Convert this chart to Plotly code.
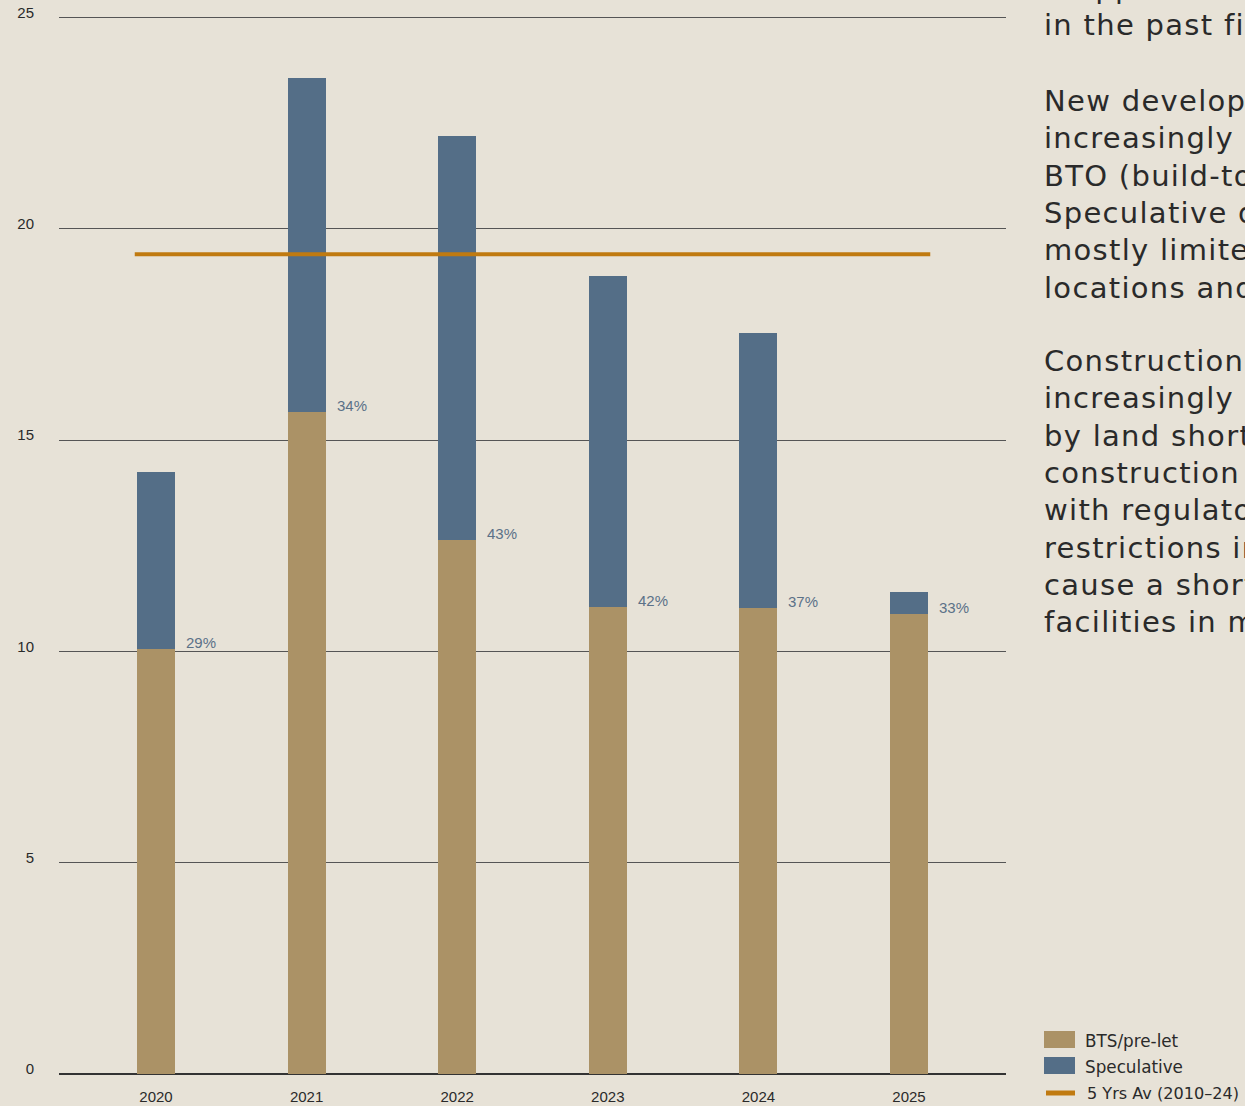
import plotly.graph_objects as go

# Completions by year (million sq m), split by development type
years = [2020, 2021, 2022, 2023, 2024, 2025]
bts_prelet = [10.06, 15.67, 12.64, 11.06, 11.03, 10.89]
speculative = [4.19, 7.91, 9.56, 7.83, 6.51, 0.52]
spec_share_labels = ["29%", "34%", "43%", "42%", "37%", "33%"]
five_year_avg = 19.4

y_ticks = [0, 5, 10, 15, 20, 25]

series_names = ["BTS/pre-let", "Speculative", "5 Yrs Av (2010\u201324)"]

paragraphs = [
    ["dropped to its lowest level", "in the past five years."],
    ["New development is", "increasingly dominated by", "BTO (build-to-own) and BTS.",
     "Speculative development is", "mostly limited to prime", "locations and core markets."],
    ["Construction activity is", "increasingly constrained", "by land shortages, rising",
     "construction costs, together", "with regulatory", "restrictions in key regions,",
     "cause a shortage of modern", "facilities in many markets."],
]

BG = "#e7e2d7"
C_BTS = "#ab9266"
C_SPEC = "#546e87"
C_AVG = "#c07a10"
TEXT = "#2a2a2a"
PARA_FONT = "DejaVu Sans"

BAR_W = 0.252
W, H = 1245, 1106
M_L, M_R, M_T, M_B = 59, 239, 5, 32
plot_w = W - M_L - M_R
plot_h = H - M_T - M_B


def px_to_paper_x(px):
    return (px - M_L) / plot_w


def px_to_paper_y(py):
    return (H - M_B - py) / plot_h


fig = go.Figure()

fig.add_trace(go.Bar(x=years, y=bts_prelet, name=series_names[0], marker_color=C_BTS,
                     marker_line_width=0, width=BAR_W, showlegend=False))
fig.add_trace(go.Bar(x=years, y=speculative, name=series_names[1], marker_color=C_SPEC,
                     marker_line_width=0, width=BAR_W, showlegend=False))

avg_x = [years[0] - BAR_W / 2 - 0.015, years[-1] + BAR_W / 2 + 0.015]
fig.add_trace(go.Scatter(x=avg_x, y=[five_year_avg] * 2, mode="lines", name=series_names[2],
                         line=dict(color=C_AVG, width=4), showlegend=False))

annotations = []
# share of speculative space, labelled beside each bar
for yr, b, lab in zip(years, bts_prelet, spec_share_labels):
    annotations.append(dict(x=yr + BAR_W / 2 + 0.06, y=b, xref="x", yref="y", text=lab,
                            showarrow=False, xanchor="left", yanchor="bottom", yshift=-4,
                            font=dict(family="Liberation Sans, Arial", size=15, color="#5b7188")))

# commentary text to the right of the chart, one annotation per line
LINE_STEP = 37.35
para_first_line = [-12.4, 101, 361]
for lines, first in zip(paragraphs, para_first_line):
    for i, line in enumerate(lines):
        annotations.append(dict(x=px_to_paper_x(1042), y=px_to_paper_y(first + i * LINE_STEP),
                                xref="paper", yref="paper", text=line, showarrow=False,
                                xanchor="left", yanchor="middle", align="left",
                                font=dict(family=PARA_FONT, size=29, color=TEXT)))

# legend
shapes = []
leg_x0 = px_to_paper_x(1044)
leg_x1 = px_to_paper_x(1075)
shapes.append(dict(type="rect", xref="paper", yref="paper", x0=leg_x0, x1=leg_x1,
                   y0=px_to_paper_y(1048), y1=px_to_paper_y(1031), fillcolor=C_BTS, line_width=0))
shapes.append(dict(type="rect", xref="paper", yref="paper", x0=leg_x0, x1=leg_x1,
                   y0=px_to_paper_y(1074), y1=px_to_paper_y(1057), fillcolor=C_SPEC, line_width=0))
shapes.append(dict(type="line", xref="paper", yref="paper", x0=px_to_paper_x(1046),
                   x1=px_to_paper_x(1075), y0=px_to_paper_y(1093), y1=px_to_paper_y(1093),
                   line=dict(color=C_AVG, width=5)))
for name, cy, lx, fs in zip(series_names, [1041, 1067, 1093], [1083, 1083, 1085], [16.8, 16.8, 16.1]):
    annotations.append(dict(x=px_to_paper_x(lx), y=px_to_paper_y(cy), xref="paper", yref="paper",
                            text=name, showarrow=False, xanchor="left", yanchor="middle",
                            font=dict(family=PARA_FONT, size=fs, color=TEXT)))

fig.update_layout(
    width=W, height=H,
    margin=dict(l=M_L, r=M_R, t=M_T, b=M_B),
    paper_bgcolor=BG, plot_bgcolor=BG,
    barmode="stack", bargap=0,
    annotations=annotations, shapes=shapes,
    font=dict(family="Liberation Sans, Arial", size=15, color=TEXT),
)
fig.update_xaxes(range=[2019.356, 2025.644], tickvals=years, ticktext=[str(y) for y in years],
                 showgrid=False, zeroline=False, showline=False, ticks="", automargin=False,
                 ticklabelstandoff=12,
                 tickfont=dict(size=15, color=TEXT))
fig.update_yaxes(range=[0, 25.3], tickvals=y_ticks, showgrid=True, gridcolor="#555555", gridwidth=1,
                 zeroline=True, zerolinecolor="#333333", zerolinewidth=1.5, showline=False, ticks="",
                 automargin=False, ticklabelstandoff=24, ticklabelshift=-5,
                 tickfont=dict(size=15, color=TEXT))

# the body copy is set with slightly open tracking
tracking_js = """
var gd = document.getElementById('{plot_id}');
function track() {
  gd.querySelectorAll('text.annotation-text').forEach(function (t) {
    if (parseFloat(t.style.fontSize) > 20) { t.style.letterSpacing = '1.3px'; }
  });
}
track();
gd.on('plotly_afterplot', track);
"""

fig.write_html("out.html", post_script=tracking_js)
